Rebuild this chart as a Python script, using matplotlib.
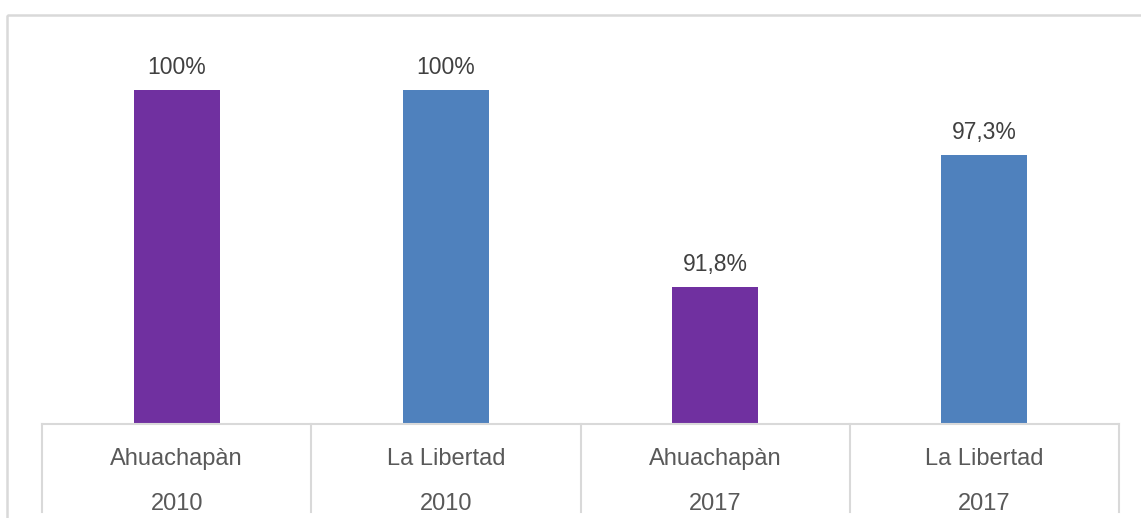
import matplotlib
matplotlib.use("Agg")
import matplotlib.pyplot as plt
from matplotlib.patches import Rectangle
from matplotlib.transforms import Affine2D

regions = ["Ahuachapàn", "La Libertad", "Ahuachapàn", "La Libertad"]
years = ["2010", "2010", "2017", "2017"]
values = [100.0, 100.0, 91.8, 97.3]
value_labels = ["100%", "100%", "91,8%", "97,3%"]
colors = ["#7030A0", "#4F81BD", "#7030A0", "#4F81BD"]

plt.rcParams['font.family'] = ['Liberation Sans', 'DejaVu Sans']

W, H = 1141, 518
fig = plt.figure(figsize=(W / 100, H / 100), dpi=100)

# plot area in pixels
left, right, bottom, top = 42, 1119, 424, 40
ax = fig.add_axes([left / W, 1 - bottom / H, (right - left) / W, (bottom - top) / H])

ymin, ymax = 86.1, 102.1
x = list(range(len(values)))
bars = ax.bar(x, [v - ymin for v in values], bottom=ymin, width=0.32, color=colors, zorder=2)
ax.set_xlim(-0.5, len(values) - 0.5)
ax.set_ylim(ymin, ymax)
ax.axis('off')

for b, lab in zip(bars, value_labels):
    ax.annotate(lab, (b.get_x() + b.get_width() / 2, b.get_y() + b.get_height()),
                xytext=(0, 16), textcoords='offset pixels', ha='center', va='baseline',
                fontsize=16.5, color='#404040')

axis_h = bottom - top
line_col = '#D9D9D9'
# baseline
ax.plot([-0.5, len(values) - 0.5], [0, 0], transform=ax.get_xaxis_transform(),
        color=line_col, lw=1.5, clip_on=False, zorder=3)
# category separators
for xs in [i - 0.5 for i in range(len(values) + 1)]:
    ax.plot([xs, xs], [0, -(512 - bottom) / axis_h], transform=ax.get_xaxis_transform(),
            color=line_col, lw=1.5, clip_on=False)

for i, (r, yv) in enumerate(zip(regions, years)):
    ax.text(i, -(465 - bottom) / axis_h, r, transform=ax.get_xaxis_transform(),
            ha='center', va='baseline', fontsize=17, color='#595959')
    ax.text(i, -(510 - bottom) / axis_h, yv, transform=ax.get_xaxis_transform(),
            ha='center', va='baseline', fontsize=17, color='#595959')

# outer chart border (cropped at right and bottom)
pix = Affine2D().scale(1.0 / W, 1.0 / H).scale(1, -1).translate(0, 1) + fig.transFigure
rect = Rectangle((6.5, 14.5), 1200, 600, fill=False, edgecolor=line_col, lw=1.8,
                 transform=pix)
fig.add_artist(rect)

fig.savefig("out.png", dpi=100)
